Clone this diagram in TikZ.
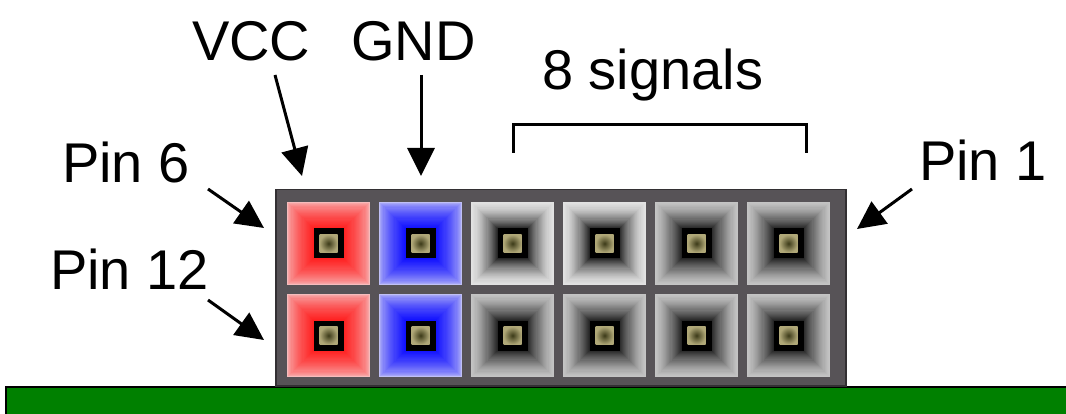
\documentclass[tikz,border=0pt]{standalone}
\usepackage{fontspec}
\setmainfont{Liberation Sans}
\usetikzlibrary{arrows.meta}

\definecolor{board}{HTML}{008000}
\definecolor{hdr}{HTML}{575357}
\definecolor{hdredge}{HTML}{333033}
\definecolor{redout}{HTML}{F6BCBC}
\definecolor{redin}{HTML}{FF2020}
\definecolor{blueout}{HTML}{C0C0F6}
\definecolor{bluein}{HTML}{1010FF}
\definecolor{greylt}{HTML}{E2E2E2}
\definecolor{greymd}{HTML}{C4C4C4}
\definecolor{greyin}{HTML}{262626}
\definecolor{contact}{HTML}{B0A878}
\definecolor{contactdk}{HTML}{3C3A18}

% one pad of the header: bevelled square with a square contact in the middle
% #1,#2 = centre, #3 = outer colour, #4 = inner colour, #5 = fall-off exponent
\newcommand\headerpad[5]{%
  \foreach \k in {0,...,24}{%
    \pgfmathsetmacro\hs{41.5-\k*1.1}%
    \pgfmathtruncatemacro\mx{100-100*(\k/24)^#5}%
    \fill[#3!\mx!#4] (#1-\hs,#2-\hs) rectangle (#1+\hs,#2+\hs);
  }%
  \fill[black] (#1-15,#2-15) rectangle (#1+15,#2+15);
  \shade[inner color=contactdk, outer color=contact] (#1-9,#2-9) rectangle (#1+9,#2+9);
}

\begin{document}
\begin{tikzpicture}[x=1pt,y=-1pt,
    lbl/.style={font=\fontsize{56}{60}\selectfont, inner sep=0pt, anchor=base west},
    arr/.style={line width=3pt, -{Triangle[length=28pt,width=27pt]}},
    bracket/.style={line width=3pt}]
  \useasboundingbox (0,0) rectangle (1066,414);
  \fill[white] (0,0) rectangle (1066,414);

  % circuit board
  \draw[fill=board, line width=2pt] (6,387) rectangle (1080,430);

  % header body
  \node[draw=hdredge, line width=1.5pt, fill=hdr, minimum width=570pt,
        minimum height=196pt, inner sep=0pt, anchor=north west] (hdr) at (275,189) {};

  % pads: row 1 (pins 6..1), row 2 (pins 12..7)
  \headerpad{328.5}{243.5}{redout}{redin}{0.6}
  \headerpad{420.5}{243.5}{blueout}{bluein}{0.6}
  \headerpad{512.5}{243.5}{greylt}{greyin}{1.5}
  \headerpad{604.5}{243.5}{greylt}{greyin}{1.5}
  \headerpad{696.5}{243.5}{greymd}{greyin}{1.3}
  \headerpad{788.5}{243.5}{greymd}{greyin}{1.3}
  \headerpad{328.5}{335.5}{redout}{redin}{0.6}
  \headerpad{420.5}{335.5}{blueout}{bluein}{0.6}
  \headerpad{512.5}{335.5}{greymd}{greyin}{1.3}
  \headerpad{604.5}{335.5}{greymd}{greyin}{1.3}
  \headerpad{696.5}{335.5}{greymd}{greyin}{1.3}
  \headerpad{788.5}{335.5}{greymd}{greyin}{1.3}

  % labels
  \node[lbl] (vcc) at (192,61) {VCC};
  \node[lbl] (gnd) at (351,61) {GND};
  \node[lbl] (sig) at (542,90) {8 signals};
  \node[lbl] (pin6) at (62,183) {Pin 6};
  \node[lbl] (pin12) at (50,290) {Pin 12};
  \node[lbl] (pin1) at (919,181) {Pin 1};

  % arrow tails and heads
  \coordinate (vccT) at (275,75);   \coordinate (vccH) at (302,176);
  \coordinate (gndT) at (421,75);   \coordinate (gndH) at (421,176);
  \coordinate (p6T)  at (208,189);  \coordinate (p6H)  at (264,228);
  \coordinate (p12T) at (208,300);  \coordinate (p12H) at (264,340);
  \coordinate (p1T)  at (912,189);  \coordinate (p1H)  at (857,229);

  \draw[arr] (vccT) -- (vccH);
  \draw[arr] (gndT) -- (gndH);
  \draw[arr] (p6T) -- (p6H);
  \draw[arr] (p12T) -- (p12H);
  \draw[arr] (p1T) -- (p1H);

  % bracket over the signal pins
  \coordinate (brL) at (513,153);
  \coordinate (brR) at (806,153);
  \draw[bracket] (brL) -- (513,125) -- (806,125) -- (brR);
\end{tikzpicture}
\end{document}
